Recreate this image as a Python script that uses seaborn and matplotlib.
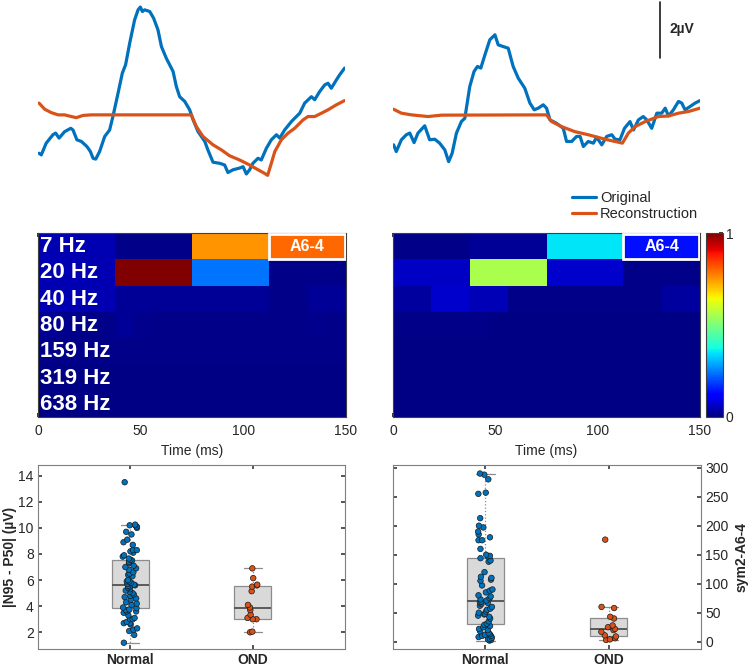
import numpy as np
import pandas as pd
import seaborn as sns
import matplotlib.pyplot as plt
from matplotlib.patches import Rectangle

sns.set_theme(style="white")
plt.rcParams['font.family'] = ['Liberation Sans', 'DejaVu Sans']

BLUE = '#0072BD'
ORANGE = '#D95319'
GRAY = '#7f7f7f'

# ---- waveforms (time in ms, amplitude in uV) ----
t_orig_left = [0.5, 1.6, 4, 7.3, 8.6, 10.3, 13, 16, 17.1, 19, 21.2, 23.9, 25.6, 26.9, 28.2, 30.1,
               32.6, 35, 36.6, 39.1, 41.2, 42.8, 44.8, 47.2, 48.9, 50, 51, 52.1, 54.6, 56.5, 58.6,
               60.3, 62.7, 66, 67.6, 69.2, 71.7, 74.1, 75.8, 78.2, 81.5, 83, 85.5, 88.8, 91.2, 92.8,
               95.3, 98.5, 100.2, 101.8, 103.4, 105, 107.5, 109.1, 111.6, 114, 116.5, 118.1, 120.5,
               123.8, 125.4, 127.9, 130.3, 133.6, 135.2, 137.6, 140.1, 141.7, 143.3, 145.8, 147.4, 149.8]
v_orig_left = [-1.37, -1.43, -1.01, -0.71, -0.65, -0.83, -0.6, -0.48, -0.54, -0.89, -0.95, -1.13, -1.31,
               -1.55, -1.58, -1.31, -0.77, -0.54, -0.06, 0.77, 1.49, 1.79, 2.56, 3.39, 3.75, 3.85, 3.69,
               3.75, 3.69, 3.45, 3.04, 2.44, 2.02, 1.55, 1.01, 0.65, 0.48, 0.18, -0.18, -0.6, -0.95,
               -1.25, -1.69, -1.73, -1.79, -2.06, -1.96, -1.9, -1.85, -2.11, -1.96, -1.73, -1.55, -1.61,
               -1.19, -0.89, -0.71, -0.83, -0.54, -0.24, -0.12, 0.06, 0.42, 0.65, 0.54, 0.83, 1.07,
               1.13, 0.95, 1.25, 1.43, 1.67]
t_rec_left = [0.5, 3.3, 6.5, 9.8, 13, 16.3, 18.7, 22, 26, 74.9, 77.4, 80.6, 85.5, 89.6, 93.6, 98.5,
              103.4, 107.5, 110.5, 112.2, 114, 115.7, 118.9, 122.2, 125.4, 129.5, 131.9, 135.2, 138.5,
              141.7, 145.8, 149.8]
v_rec_left = [0.42, 0.2, 0.08, 0.0, 0.0, -0.06, -0.1, -0.02, 0.0, 0.0, -0.42, -0.77, -1.07, -1.25,
              -1.46, -1.61, -1.79, -1.96, -2.08, -2.16, -1.73, -1.31, -0.89, -0.65, -0.48, -0.18,
              -0.06, -0.06, 0.06, 0.18, 0.36, 0.51]

t_orig_right = [0.3, 1.6, 4.1, 6.5, 8.2, 10.3, 12.2, 15.5, 17.9, 20.4, 22.8, 25.3, 27.2, 28.9, 31,
                33.4, 35.1, 37.5, 39.6, 41.3, 42.9, 44.9, 47.3, 49.8, 51.4, 53.8, 56.3, 58.7, 61.2,
                64.4, 66.9, 69, 71, 73.4, 75, 76.7, 79.9, 83.2, 84.8, 87.3, 89.7, 91.4, 93, 95.4,
                97.9, 99.5, 102, 104.4, 106.9, 108.5, 110.9, 113.1, 115.8, 117.5, 119.9, 122.3, 124,
                126.4, 128.9, 131.3, 133, 134.6, 137, 139.5, 141.1, 142.7, 145.2, 147.6, 150]
v_orig_right = [-1.07, -1.31, -0.89, -0.71, -0.65, -0.99, -0.65, -0.39, -0.89, -0.87, -1.01, -1.25,
                -1.67, -1.37, -0.65, -0.24, -0.12, 1.01, 1.55, 1.73, 1.67, 2.14, 2.68, 2.86, 2.5,
                2.44, 2.38, 1.73, 1.31, 0.95, 0.42, 0.18, 0.24, 0.36, 0.24, -0.18, -0.3, -0.48,
                -0.95, -0.95, -0.77, -0.77, -1.13, -0.95, -1.01, -0.8, -1.07, -0.77, -0.71, -0.87,
                -0.89, -0.48, -0.24, -0.54, -0.18, -0.06, -0.18, -0.48, 0.06, 0.06, 0.24, -0.04,
                0.18, 0.48, 0.42, 0.18, 0.3, 0.42, 0.51]
t_rec_right = [0.3, 4.1, 9, 17.1, 23.7, 75, 77.5, 82.4, 88.9, 95.4, 103.6, 108.5, 112.1, 115, 118.3,
               123.2, 129.7, 134.6, 139.5, 144.4, 150]
v_rec_right = [0.2, 0.06, 0.0, -0.06, -0.01, 0.0, -0.24, -0.42, -0.6, -0.71, -0.87, -0.95, -1.01,
               -0.65, -0.42, -0.24, -0.06, -0.04, 0.06, 0.12, 0.24]

# ---- normalised wavelet coefficients, one list per level (A6, D6 ... D1) ----
freq_labels = ['7 Hz', '20 Hz', '40 Hz', '80 Hz', '159 Hz', '319 Hz', '638 Hz']
coef_left = [
    [0.045, 0.01, 0.75, 0.80],
    [0.045, 1.0, 0.24, 0.01],
    [0.045, 0.045, 0.02, 0.02, 0.02, 0.02, 0.01, 0.02],
    [0.02, 0.015, 0.01, 0.01, 0.02, 0.015, 0.01, 0.01, 0.01, 0.01, 0.01, 0.01, 0.01, 0.01, 0.015, 0.01],
    [0.01, 0.01, 0.01, 0.01, 0.01, 0.01, 0.01, 0.01],
    [0.005, 0.005, 0.005, 0.005, 0.005, 0.005, 0.005, 0.005],
    [0.005, 0.005, 0.005, 0.005, 0.005, 0.005, 0.005, 0.005],
]
coef_right = [
    [0.01, 0.02, 0.35, 0.14],
    [0.06, 0.555, 0.07, 0.01],
    [0.03, 0.07, 0.05, 0.01, 0.01, 0.01, 0.01, 0.03],
    [0.01, 0.01, 0.01, 0.01, 0.01, 0.005, 0.005, 0.005, 0.005, 0.005, 0.005, 0.005, 0.005, 0.005, 0.005, 0.005],
    [0.005, 0.005, 0.005, 0.005, 0.005, 0.005, 0.005, 0.005],
    [0.005, 0.005, 0.005, 0.005, 0.005, 0.005, 0.005, 0.005],
    [0.005, 0.005, 0.005, 0.005, 0.005, 0.005, 0.005, 0.005],
]

# ---- group comparison ----
groups = ['Normal', 'OND']
amp_normal = [1.2, 1.8, 2.1, 2.2, 2.3, 2.6, 2.7, 2.7, 2.8, 3.0, 3.0, 3.1, 3.3, 3.5, 3.6, 3.6, 3.7, 3.75,
              3.85, 3.9, 4.1, 4.2, 4.3, 4.5, 4.6, 4.7, 4.8, 4.9, 5.0, 5.1, 5.2, 5.3, 5.4, 5.5, 5.55, 5.6,
              5.65, 5.7, 5.8, 5.9, 5.9, 6.0, 6.3, 6.4, 6.5, 6.6, 6.8, 6.9, 7.0, 7.1, 7.3, 7.4, 7.5, 7.55,
              7.65, 7.8, 7.9, 8.1, 8.2, 8.3, 8.3, 8.7, 8.9, 9.1, 9.5, 9.7, 10.0, 10.1, 10.2, 10.2, 10.25, 13.5]
amp_ond = [2.0, 2.05, 3.0, 3.0, 3.1, 3.35, 3.7, 3.9, 4.1, 5.15, 5.5, 5.6, 5.65, 6.15, 6.9]
sym_normal = [2, 3, 4, 5, 7, 8, 10, 10, 12, 13, 15, 18, 20, 22, 25, 27, 29,
              31, 35, 40, 43, 45, 47, 48, 50, 52, 55, 57, 60, 62, 65, 67, 68, 69,
              71, 73, 75, 78, 80, 85, 88, 90, 97, 105, 107, 110, 112, 120, 138, 140, 144,
              147, 148, 150, 160, 175, 175, 180, 185, 190, 197, 200, 213, 255, 257, 280, 288, 290]
sym_ond = [3, 4, 6, 9, 11, 17, 20, 22, 25, 28, 40, 43, 58, 60, 176]

fig = plt.figure(figsize=(7.5, 6.7), dpi=100)
W, H = 750, 670


def add_ax(x0, y0, x1, y1):
    return fig.add_axes([x0 / W, 1 - y1 / H, (x1 - x0) / W, (y1 - y0) / H])


# ---------------- top: traces ----------------
ax_tl = add_ax(38, 2, 345, 186)
ax_tr = add_ax(393, 2, 700, 186)
for ax, to, vo, tr, vr in [(ax_tl, t_orig_left, v_orig_left, t_rec_left, v_rec_left),
                           (ax_tr, t_orig_right, v_orig_right, t_rec_right, v_rec_right)]:
    sns.lineplot(x=tr, y=vr, ax=ax, color=ORANGE, lw=2.3, label='Reconstruction', legend=False)
    sns.lineplot(x=to, y=vo, ax=ax, color=BLUE, lw=2.3, label='Original', legend=False)
    ax.lines[1].set_zorder(1)
    ax.lines[0].set_zorder(2)
    ax.set_xlim(0, 150)
    ax.set_ylim(-2.54, 4.03)
    ax.axis('off')

ax_tr.plot([130.3, 130.3], [2.04, 4.04], color='k', lw=1.2, clip_on=False)
ax_tr.text(135, 3.05, '2µV', fontsize=10, fontweight='bold', ha='left', va='center')
h, l = ax_tr.get_legend_handles_labels()
fig.legend([h[1], h[0]], [l[1], l[0]], loc='upper right', bbox_to_anchor=(704 / W, 1 - 185 / H),
           frameon=False, fontsize=10.5, handlelength=1.6, handletextpad=0.3, labelspacing=0.15,
           borderaxespad=0)

# ---------------- middle: coefficient maps ----------------
NCOL = 128
ax_hl = add_ax(38, 233, 346, 417)
ax_hr = add_ax(393, 233, 700, 417)
ax_cb = add_ax(706, 233, 723, 417)

for ax, coefs, with_cbar in [(ax_hl, coef_left, False), (ax_hr, coef_right, True)]:
    mat = np.array([np.repeat(row, NCOL // len(row)) for row in coefs])
    sns.heatmap(mat, ax=ax, cmap='jet', vmin=0, vmax=1, cbar=with_cbar,
                cbar_ax=ax_cb if with_cbar else None, xticklabels=False, yticklabels=False)
    for s in ax.spines.values():
        s.set_visible(True)
        s.set_color('#404040')
        s.set_linewidth(0.8)
    ax.set_xticks(np.array([0, 50, 100, 150]) * NCOL / 150)
    ax.set_xticklabels(['0', '50', '100', '150'])
    ax.set_yticks([])
    ax.tick_params(axis='x', direction='in', bottom=True, top=True, length=3, color='#202020',
                   labelsize=10, pad=5, labelcolor='#262626')
    ax.set_xlabel('Time (ms)', fontsize=10, color='#262626', labelpad=4)
    x0 = NCOL * 112.5 / 150
    ax.add_patch(Rectangle((x0, 0.03), NCOL - x0 - 0.4, 0.97, fill=False, ec='white', lw=2, zorder=5))
    ax.text((x0 + NCOL) / 2, 0.52, 'A6-4', color='white', fontsize=11.5, fontweight='bold',
            ha='center', va='center', zorder=6)

for i, lab in enumerate(freq_labels):
    ax_hl.text(1.0, i + 0.52, lab, color='white', fontsize=16, fontweight='bold',
               ha='left', va='center')

cb = ax_hr.collections[0].colorbar
cb.outline.set_linewidth(0.8)
cb.outline.set_edgecolor('#404040')
cb.set_ticks([0, 0.2, 0.4, 0.6, 0.8, 1.0])
cb.set_ticklabels(['0', '', '', '', '', '1'])
ax_cb.tick_params(direction='in', length=3, right=True, labelsize=10, pad=2, color='#202020')

# ---------------- bottom: group comparison ----------------
ax_bl = add_ax(38, 465, 345, 649)
ax_br = add_ax(393, 465, 701, 649)
palette = {'Normal': BLUE, 'OND': ORANGE}
np.random.seed(7)

for ax, normal, ond in [(ax_bl, amp_normal, amp_ond), (ax_br, sym_normal, sym_ond)]:
    df = pd.DataFrame({'group': ['Normal'] * len(normal) + ['OND'] * len(ond),
                       'value': normal + ond})
    sns.boxplot(data=df, x='group', y='value', order=groups, ax=ax, color='#d9d9d9', saturation=1,
                width=0.3, linecolor='#8c8c8c', linewidth=0.9, showfliers=False,
                whiskerprops={'linestyle': ':'}, medianprops={'color': '#5a5a5a', 'linewidth': 1.4})
    sns.stripplot(data=df, x='group', y='value', order=groups, hue='group', palette=palette,
                  jitter=0.06, size=4, edgecolor='#1a1a1a', linewidth=0.5, legend=False, ax=ax,
                  zorder=3)
    ax.set_xlim(-0.75, 1.75)
    ax.set_xlabel('')
    for s in ax.spines.values():
        s.set_visible(True)
        s.set_color(GRAY)
        s.set_linewidth(0.8)
    ax.tick_params(direction='in', top=True, bottom=True, left=True, right=True, length=3,
                   color='#404040', labelsize=10, labelcolor='#262626', pad=3)
    for tl in ax.get_xticklabels():
        tl.set_fontweight('bold')

ax_bl.set_ylim(0.72, 14.82)
ax_bl.set_yticks([2, 4, 6, 8, 10, 12, 14])
ax_bl.set_ylabel('|N95 - P50| (µV)', fontsize=10, fontweight='bold', labelpad=1)

ax_br.set_ylim(-12.6, 304.7)
ax_br.set_yticks([0, 50, 100, 150, 200, 250, 300])
ax_br.tick_params(labelleft=False, labelright=True)
ax_br.yaxis.set_label_position('right')
ax_br.set_ylabel('sym2-A6-4', fontsize=10, fontweight='bold', labelpad=4)

plt.savefig('out.png', dpi=100)
plt.close()
